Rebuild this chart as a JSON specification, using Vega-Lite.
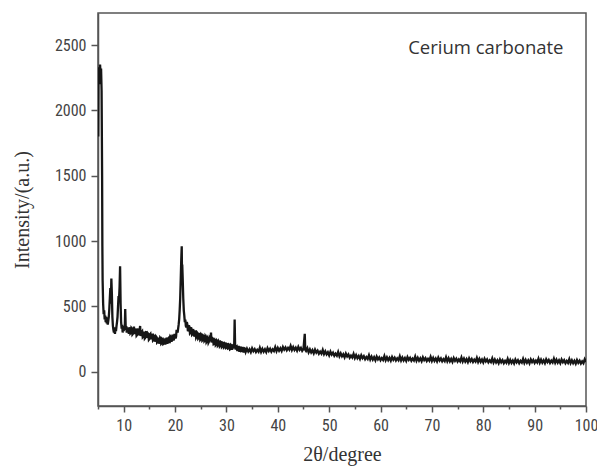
{
  "$schema": "https://vega.github.io/schema/vega-lite/v6.json",
  "width": 488,
  "height": 393,
  "autosize": "none",
  "padding": {"left": 98, "top": 13, "right": 11, "bottom": 62},
  "background": "white",
  "config": {"view": {"stroke": "#555", "strokeWidth": 1.5}},
  "datasets": {
    "xrd": [
{"x":5.05,"y":1800},{"x":5.1,"y":2250},{"x":5.2,"y":2330},{"x":5.3,"y":2200},{"x":5.4,"y":2350},{"x":5.5,"y":2280},{"x":5.6,"y":2320},{"x":5.7,"y":2150},{"x":5.8,"y":1500},{"x":5.85,"y":960},{"x":5.9,"y":700},
{"x":6.0,"y":520},{"x":6.1,"y":440},{"x":6.2,"y":470},{"x":6.3,"y":400},{"x":6.4,"y":430},{"x":6.5,"y":380},{"x":6.6,"y":420},{"x":6.7,"y":370},{"x":6.8,"y":400},{"x":6.9,"y":360},
{"x":7.0,"y":390},{"x":7.1,"y":420},{"x":7.2,"y":480},{"x":7.3,"y":560},{"x":7.4,"y":640},{"x":7.5,"y":520},{"x":7.6,"y":713},{"x":7.7,"y":600},{"x":7.8,"y":420},{"x":7.9,"y":350},
{"x":8.0,"y":320},{"x":8.1,"y":300},{"x":8.2,"y":340},{"x":8.3,"y":290},{"x":8.4,"y":330},{"x":8.5,"y":310},{"x":8.6,"y":350},{"x":8.7,"y":380},{"x":8.8,"y":420},{"x":8.9,"y":500},
{"x":9.0,"y":580},{"x":9.1,"y":560},{"x":9.2,"y":650},{"x":9.3,"y":807},{"x":9.4,"y":520},{"x":9.5,"y":380},{"x":9.6,"y":330},{"x":9.7,"y":360},{"x":9.8,"y":300},{"x":9.9,"y":340},
{"x":10.0,"y":310},{"x":10.1,"y":350},{"x":10.2,"y":320},{"x":10.3,"y":480},{"x":10.4,"y":330},{"x":10.5,"y":350},{"x":10.6,"y":300},{"x":10.7,"y":340},{"x":10.8,"y":310},{"x":10.9,"y":330},
{"x":11.0,"y":290},{"x":11.1,"y":325},{"x":11.2,"y":340},{"x":11.3,"y":295},{"x":11.4,"y":300},{"x":11.5,"y":335},{"x":11.6,"y":330},{"x":11.7,"y":285},{"x":11.8,"y":290},{"x":11.9,"y":320},
{"x":12.0,"y":345},{"x":12.1,"y":290},{"x":12.2,"y":300},{"x":12.3,"y":330},{"x":12.4,"y":320},{"x":12.5,"y":275},{"x":12.6,"y":280},{"x":12.7,"y":315},{"x":12.8,"y":330},{"x":12.9,"y":280},
{"x":13.0,"y":290},{"x":13.1,"y":320},{"x":13.2,"y":350},{"x":13.3,"y":275},{"x":13.4,"y":285},{"x":13.5,"y":305},{"x":13.6,"y":310},{"x":13.7,"y":265},{"x":13.8,"y":270},{"x":13.9,"y":300},
{"x":14.0,"y":300},{"x":14.1,"y":255},{"x":14.2,"y":260},{"x":14.3,"y":300},{"x":14.4,"y":310},{"x":14.5,"y":260},{"x":14.6,"y":270},{"x":14.7,"y":295},{"x":14.8,"y":290},{"x":14.9,"y":245},
{"x":15.0,"y":250},{"x":15.1,"y":285},{"x":15.2,"y":290},{"x":15.3,"y":250},{"x":15.4,"y":260},{"x":15.5,"y":290},{"x":15.6,"y":280},{"x":15.7,"y":240},{"x":15.8,"y":245},{"x":15.9,"y":275},
{"x":16.0,"y":270},{"x":16.1,"y":230},{"x":16.2,"y":240},{"x":16.3,"y":270},{"x":16.4,"y":265},{"x":16.5,"y":225},{"x":16.6,"y":230},{"x":16.7,"y":260},{"x":16.8,"y":250},{"x":16.9,"y":215},
{"x":17.0,"y":225},{"x":17.1,"y":260},{"x":17.2,"y":255},{"x":17.3,"y":215},{"x":17.4,"y":220},{"x":17.5,"y":250},{"x":17.6,"y":245},{"x":17.7,"y":212},{"x":17.8,"y":215},{"x":17.9,"y":245},
{"x":18.0,"y":240},{"x":18.1,"y":210},{"x":18.2,"y":220},{"x":18.3,"y":260},{"x":18.4,"y":250},{"x":18.5,"y":215},{"x":18.6,"y":225},{"x":18.7,"y":255},{"x":18.8,"y":260},{"x":18.9,"y":220},
{"x":19.0,"y":230},{"x":19.1,"y":270},{"x":19.2,"y":265},{"x":19.3,"y":230},{"x":19.4,"y":240},{"x":19.5,"y":285},{"x":19.6,"y":270},{"x":19.7,"y":240},{"x":19.8,"y":250},{"x":19.9,"y":290},
{"x":20.0,"y":280},{"x":20.1,"y":255},{"x":20.2,"y":270},{"x":20.3,"y":320},{"x":20.4,"y":310},{"x":20.5,"y":300},{"x":20.6,"y":330},{"x":20.7,"y":360},{"x":20.8,"y":400},{"x":20.9,"y":470},
{"x":21.0,"y":560},{"x":21.1,"y":700},{"x":21.2,"y":850},{"x":21.3,"y":960},{"x":21.35,"y":760},{"x":21.4,"y":820},{"x":21.5,"y":700},{"x":21.6,"y":560},{"x":21.7,"y":470},{"x":21.8,"y":430},{"x":21.9,"y":380},
{"x":22.0,"y":400},{"x":22.1,"y":350},{"x":22.2,"y":340},{"x":22.3,"y":380},{"x":22.4,"y":360},{"x":22.5,"y":310},{"x":22.6,"y":320},{"x":22.7,"y":355},{"x":22.8,"y":345},{"x":22.9,"y":295},
{"x":23.0,"y":300},{"x":23.1,"y":340},{"x":23.2,"y":330},{"x":23.3,"y":285},{"x":23.4,"y":290},{"x":23.5,"y":325},{"x":23.6,"y":315},{"x":23.7,"y":270},{"x":23.8,"y":280},{"x":23.9,"y":315},
{"x":24.0,"y":305},{"x":24.1,"y":262},{"x":24.2,"y":270},{"x":24.3,"y":300},{"x":24.4,"y":295},{"x":24.5,"y":255},{"x":24.6,"y":260},{"x":24.7,"y":295},{"x":24.8,"y":285},{"x":24.9,"y":245},
{"x":25.0,"y":250},{"x":25.1,"y":285},{"x":25.2,"y":280},{"x":25.3,"y":240},{"x":25.4,"y":245},{"x":25.5,"y":275},{"x":25.6,"y":270},{"x":25.7,"y":235},{"x":25.8,"y":240},{"x":25.9,"y":272},
{"x":26.0,"y":265},{"x":26.1,"y":228},{"x":26.2,"y":235},{"x":26.3,"y":262},{"x":26.4,"y":255},{"x":26.5,"y":222},{"x":26.6,"y":230},{"x":26.7,"y":258},{"x":26.8,"y":250},{"x":26.9,"y":240},
{"x":27.0,"y":300},{"x":27.1,"y":225},{"x":27.2,"y":235},{"x":27.3,"y":255},{"x":27.4,"y":250},{"x":27.5,"y":212},{"x":27.6,"y":215},{"x":27.7,"y":245},{"x":27.8,"y":240},{"x":27.9,"y":205},
{"x":28.0,"y":210},{"x":28.1,"y":240},{"x":28.2,"y":235},{"x":28.3,"y":200},{"x":28.4,"y":205},{"x":28.5,"y":232},{"x":28.6,"y":225},{"x":28.7,"y":195},{"x":28.8,"y":200},{"x":28.9,"y":228},
{"x":29.0,"y":225},{"x":29.1,"y":190},{"x":29.2,"y":195},{"x":29.3,"y":222},{"x":29.4,"y":220},{"x":29.5,"y":186},{"x":29.6,"y":190},{"x":29.7,"y":218},{"x":29.8,"y":215},{"x":29.9,"y":182},
{"x":30.0,"y":185},{"x":30.1,"y":212},{"x":30.2,"y":210},{"x":30.3,"y":178},{"x":30.4,"y":180},{"x":30.5,"y":208},{"x":30.6,"y":205},{"x":30.7,"y":172},{"x":30.8,"y":175},{"x":30.9,"y":204},
{"x":31.0,"y":200},{"x":31.1,"y":170},{"x":31.2,"y":180},{"x":31.3,"y":198},{"x":31.4,"y":195},{"x":31.5,"y":180},{"x":31.6,"y":400},{"x":31.7,"y":190},{"x":31.8,"y":170},{"x":31.9,"y":192},
{"x":32.0,"y":195},{"x":32.1,"y":165},{"x":32.2,"y":165},{"x":32.3,"y":190},{"x":32.4,"y":190},{"x":32.5,"y":160},{"x":32.6,"y":160},{"x":32.7,"y":186},{"x":32.8,"y":185},{"x":32.9,"y":158},
{"x":33.0,"y":160},{"x":33.1,"y":182},{"x":33.2,"y":180},{"x":33.3,"y":155},{"x":33.4,"y":155},{"x":33.5,"y":180},{"x":33.6,"y":178},{"x":33.75,"y":152},
{"x":34.0,"y":177},{"x":34.25,"y":155},{"x":34.5,"y":172},{"x":34.75,"y":150},{"x":35.0,"y":179},{"x":35.25,"y":158},{"x":35.5,"y":173},{"x":35.75,"y":151},
{"x":36.0,"y":167},{"x":36.25,"y":153},{"x":36.5,"y":183},{"x":36.75,"y":152},{"x":37.0,"y":175},{"x":37.25,"y":154},{"x":37.5,"y":172},{"x":37.75,"y":150},
{"x":38.0,"y":180},{"x":38.25,"y":159},{"x":38.5,"y":176},{"x":38.75,"y":154},{"x":39.0,"y":172},{"x":39.25,"y":159},{"x":39.5,"y":188},{"x":39.75,"y":158},
{"x":40.0,"y":182},{"x":40.25,"y":161},{"x":40.5,"y":180},{"x":40.75,"y":159},{"x":41.0,"y":189},{"x":41.25,"y":169},{"x":41.5,"y":186},{"x":41.75,"y":165},
{"x":42.0,"y":183},{"x":42.25,"y":169},{"x":42.5,"y":198},{"x":42.75,"y":167},{"x":43.0,"y":189},{"x":43.25,"y":167},{"x":43.5,"y":184},{"x":43.75,"y":162},
{"x":44.0,"y":190},{"x":44.25,"y":168},{"x":44.5,"y":183},{"x":44.75,"y":160},{"x":45.0,"y":175},{"x":45.25,"y":290},{"x":45.35,"y":168},{"x":45.5,"y":159},{"x":45.75,"y":180},
{"x":46.0,"y":149},{"x":46.25,"y":171},{"x":46.5,"y":148},{"x":46.75,"y":165},{"x":47.0,"y":141},{"x":47.25,"y":169},{"x":47.5,"y":147},{"x":47.75,"y":162},
{"x":48.0,"y":138},{"x":48.25,"y":154},{"x":48.5,"y":139},{"x":48.75,"y":167},{"x":49.0,"y":135},{"x":49.25,"y":156},{"x":49.5,"y":133},{"x":49.75,"y":149},
{"x":50.0,"y":126},{"x":50.25,"y":154},{"x":50.5,"y":131},{"x":50.75,"y":146},{"x":51.0,"y":123},{"x":51.25,"y":139},{"x":51.5,"y":124},{"x":51.75,"y":152},
{"x":52.0,"y":119},{"x":52.25,"y":141},{"x":52.5,"y":118},{"x":52.75,"y":134},{"x":53.0,"y":111},{"x":53.25,"y":139},{"x":53.5,"y":117},{"x":53.75,"y":132},
{"x":54.0,"y":108},{"x":54.25,"y":124},{"x":54.5,"y":109},{"x":54.75,"y":137},{"x":55.0,"y":105},{"x":55.25,"y":127},{"x":55.5,"y":104},{"x":55.75,"y":121},
{"x":56.0,"y":98},{"x":56.25,"y":126},{"x":56.5,"y":104},{"x":56.75,"y":119},{"x":57.0,"y":96},{"x":57.25,"y":112},{"x":57.5,"y":98},{"x":57.75,"y":126},
{"x":58.0,"y":94},{"x":58.25,"y":116},{"x":58.5,"y":93},{"x":58.75,"y":111},{"x":59.0,"y":88},{"x":59.25,"y":116},{"x":59.5,"y":95},{"x":59.75,"y":110},
{"x":60.0,"y":88},{"x":60.25,"y":105},{"x":60.5,"y":91},{"x":60.75,"y":120},{"x":61.0,"y":88},{"x":61.25,"y":111},{"x":61.5,"y":89},{"x":61.75,"y":107},
{"x":62.0,"y":85},{"x":62.25,"y":113},{"x":62.5,"y":92},{"x":62.75,"y":108},{"x":63.0,"y":86},{"x":63.25,"y":103},{"x":63.5,"y":89},{"x":63.75,"y":118},
{"x":64.0,"y":86},{"x":64.25,"y":109},{"x":64.5,"y":87},{"x":64.75,"y":105},{"x":65.0,"y":83},{"x":65.25,"y":112},{"x":65.5,"y":91},{"x":65.75,"y":106},
{"x":66.0,"y":84},{"x":66.25,"y":101},{"x":66.5,"y":87},{"x":66.75,"y":116},{"x":67.0,"y":84},{"x":67.25,"y":107},{"x":67.5,"y":85},{"x":67.75,"y":103},
{"x":68.0,"y":81},{"x":68.25,"y":110},{"x":68.5,"y":89},{"x":68.75,"y":104},{"x":69.0,"y":82},{"x":69.25,"y":99},{"x":69.5,"y":85},{"x":69.75,"y":114},
{"x":70.0,"y":83},{"x":70.25,"y":106},{"x":70.5,"y":83},{"x":70.75,"y":101},{"x":71.0,"y":79},{"x":71.25,"y":108},{"x":71.5,"y":86},{"x":71.75,"y":102},
{"x":72.0,"y":80},{"x":72.25,"y":97},{"x":72.5,"y":82},{"x":72.75,"y":111},{"x":73.0,"y":80},{"x":73.25,"y":103},{"x":73.5,"y":80},{"x":73.75,"y":98},
{"x":74.0,"y":76},{"x":74.25,"y":105},{"x":74.5,"y":84},{"x":74.75,"y":100},{"x":75.0,"y":78},{"x":75.25,"y":95},{"x":75.5,"y":80},{"x":75.75,"y":109},
{"x":76.0,"y":78},{"x":76.25,"y":101},{"x":76.5,"y":78},{"x":76.75,"y":96},{"x":77.0,"y":74},{"x":77.25,"y":103},{"x":77.5,"y":81},{"x":77.75,"y":97},
{"x":78.0,"y":75},{"x":78.25,"y":92},{"x":78.5,"y":78},{"x":78.75,"y":106},{"x":79.0,"y":75},{"x":79.25,"y":98},{"x":79.5,"y":76},{"x":79.75,"y":94},
{"x":80.0,"y":72},{"x":80.25,"y":100},{"x":80.5,"y":79},{"x":80.75,"y":94},{"x":81.0,"y":72},{"x":81.25,"y":88},{"x":81.5,"y":74},{"x":81.75,"y":102},
{"x":82.0,"y":71},{"x":82.25,"y":93},{"x":82.5,"y":71},{"x":82.75,"y":88},{"x":83.0,"y":66},{"x":83.25,"y":94},{"x":83.5,"y":73},{"x":83.75,"y":89},
{"x":84.0,"y":66},{"x":84.25,"y":83},{"x":84.5,"y":69},{"x":84.75,"y":98},{"x":85.0,"y":67},{"x":85.25,"y":90},{"x":85.5,"y":68},{"x":85.75,"y":86},
{"x":86.0,"y":64},{"x":86.25,"y":93},{"x":86.5,"y":72},{"x":86.75,"y":88},{"x":87.0,"y":66},{"x":87.25,"y":83},{"x":87.5,"y":70},{"x":87.75,"y":99},
{"x":88.0,"y":68},{"x":88.25,"y":91},{"x":88.5,"y":69},{"x":88.75,"y":87},{"x":89.0,"y":65},{"x":89.25,"y":94},{"x":89.5,"y":74},{"x":89.75,"y":90},
{"x":90.0,"y":68},{"x":90.25,"y":85},{"x":90.5,"y":71},{"x":90.75,"y":100},{"x":91.0,"y":69},{"x":91.25,"y":92},{"x":91.5,"y":70},{"x":91.75,"y":88},
{"x":92.0,"y":66},{"x":92.25,"y":95},{"x":92.5,"y":74},{"x":92.75,"y":90},{"x":93.0,"y":68},{"x":93.25,"y":85},{"x":93.5,"y":71},{"x":93.75,"y":100},
{"x":94.0,"y":69},{"x":94.25,"y":92},{"x":94.5,"y":70},{"x":94.75,"y":88},{"x":95.0,"y":66},{"x":95.25,"y":94},{"x":95.5,"y":73},{"x":95.75,"y":88},
{"x":96.0,"y":66},{"x":96.25,"y":83},{"x":96.5,"y":68},{"x":96.75,"y":97},{"x":97.0,"y":66},{"x":97.25,"y":88},{"x":97.5,"y":66},{"x":97.75,"y":84},
{"x":98.0,"y":62},{"x":98.25,"y":90},{"x":98.5,"y":69},{"x":98.75,"y":85},{"x":99.0,"y":63},{"x":99.25,"y":80},{"x":99.5,"y":66},{"x":99.75,"y":95},{"x":100.0,"y":75}
    ],
    "label": [{"x": 80.5, "y": 2430, "text": "Cerium carbonate"}]
  },
  "layer": [
    {
      "data": {"name": "xrd"},
      "mark": {"type": "line", "color": "#161616", "strokeWidth": 2.3, "clip": true},
      "encoding": {
        "x": {
          "field": "x", "type": "quantitative",
          "scale": {"domain": [5, 100], "nice": false, "zero": false},
          "axis": {
            "title": "2θ/degree",
            "values": [10,20,30,40,50,60,70,80,90,100],
            "format": "d",
            "grid": false,
            "domainColor": "#555", "domainWidth": 1.5,
            "tickColor": "#555", "tickWidth": 1.5, "tickSize": 6,
            "labelFont": "Liberation Sans Narrow, Roboto Condensed, DejaVu Sans Condensed, sans-serif",
            "labelFontSize": 16, "labelColor": "#444", "labelPadding": 5,
            "labelFlush": false, "labelOverlap": false,
            "titleFont": "Liberation Serif, Times New Roman, serif",
            "titleFontSize": 20, "titleFontWeight": "normal", "titleColor": "#333",
            "titlePadding": 11
          }
        },
        "y": {
          "field": "y", "type": "quantitative",
          "scale": {"domain": [-262, 2745], "nice": false, "zero": false},
          "axis": {
            "title": "Intensity/(a.u.)",
            "values": [0,250,500,750,1000,1250,1500,1750,2000,2250,2500],
            "labelExpr": "datum.value % 500 === 0 ? datum.label : ''",
            "format": "d",
            "grid": false,
            "domainColor": "#555", "domainWidth": 1.5,
            "tickColor": "#555", "tickWidth": 1.5,
            "tickSize": {"condition": {"test": "datum.value % 500 === 0", "value": 7}, "value": 3},
            "labelFont": "Liberation Sans Narrow, Roboto Condensed, DejaVu Sans Condensed, sans-serif",
            "labelFontSize": 16, "labelColor": "#444", "labelPadding": 5,
            "labelFlush": false, "labelOverlap": false,
            "titleFont": "Liberation Serif, Times New Roman, serif",
            "titleFontSize": 20, "titleFontWeight": "normal", "titleColor": "#333",
            "titlePadding": 22
          }
        }
      }
    },
    {
      "data": {"name": "label"},
      "mark": {"type": "text", "font": "Open Sans, sans-serif", "fontSize": 18.5, "color": "#333", "align": "center", "baseline": "alphabetic"},
      "encoding": {
        "x": {
          "field": "x", "type": "quantitative",
          "axis": {
            "orient": "bottom",
            "values": [5,15,25,35,45,55,65,75,85,95],
            "labels": false, "domain": false, "grid": false, "title": null,
            "tickColor": "#555", "tickWidth": 1.5, "tickSize": 3
          }
        },
        "y": {"field": "y", "type": "quantitative"},
        "text": {"field": "text"}
      }
    }
  ],
  "resolve": {"axis": {"x": "independent"}}
}
